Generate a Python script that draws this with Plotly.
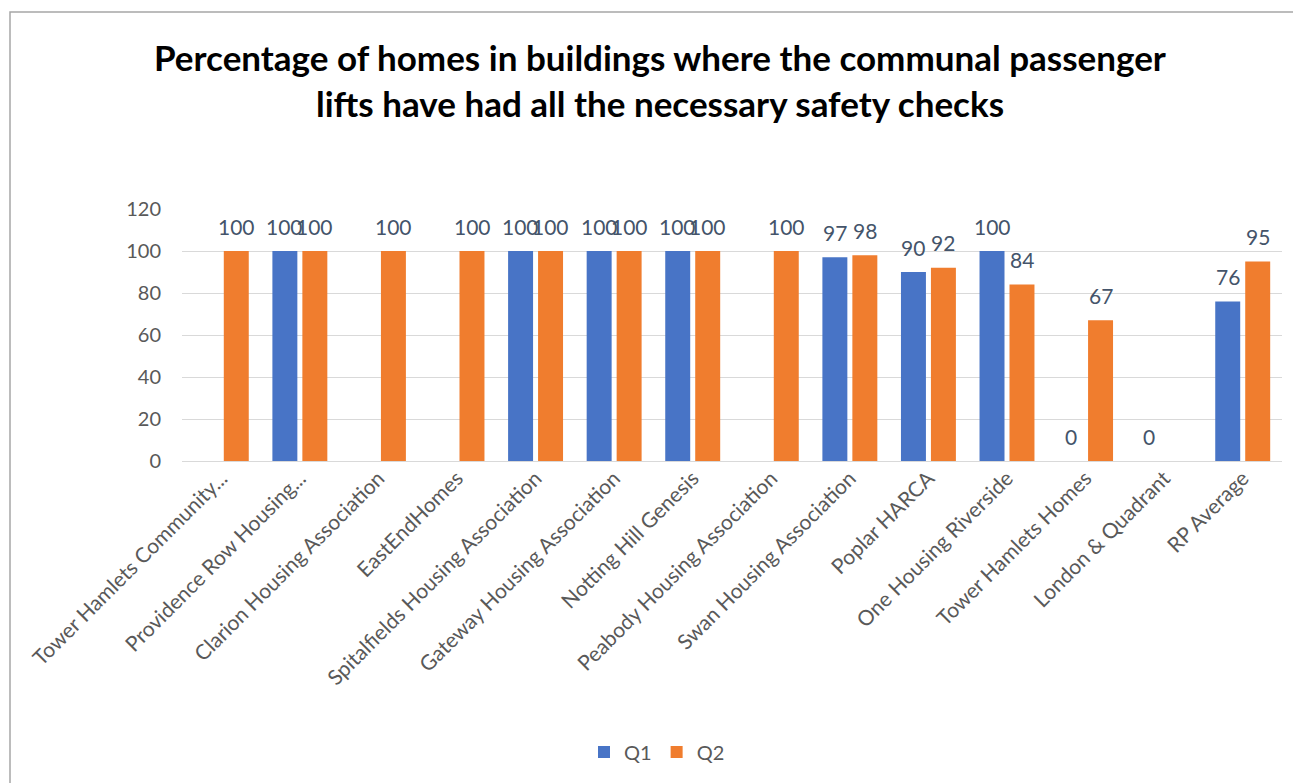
import plotly.graph_objects as go

categories = [
    "Tower Hamlets Community...",
    "Providence Row Housing...",
    "Clarion Housing Association",
    "EastEndHomes",
    "Spitalfields Housing Association",
    "Gateway Housing Association",
    "Notting Hill Genesis",
    "Peabody Housing Association",
    "Swan Housing Association",
    "Poplar HARCA",
    "One Housing Riverside",
    "Tower Hamlets Homes",
    "London & Quadrant",
    "RP Average",
]
q1 = [None, 100, None, None, 100, 100, 100, None, 97, 90, 100, 0, 0, 76]
q2 = [100, 100, 100, 100, 100, 100, 100, 100, 98, 92, 84, 67, None, 95]
y_ticks = [0, 20, 40, 60, 80, 100, 120]

title_line1 = "Percentage of homes in buildings where the communal passenger"
title_line2 = "lifts have had all the necessary safety checks"

OFF = 8  # page body margin
W, H = 1301, 783
L, R, T, B = 174, 27, 201, 330
pw = W - L - R
ph = H - T - B

def px_x(x):  # screen pixel -> paper
    return (x - OFF - L) / pw

def px_y(y):
    return (H - B - (y - OFF)) / ph

FONT = "Lato, Open Sans, sans-serif"
label_font = dict(family=FONT, size=21, color="#44546A")

fig = go.Figure()
fig.add_trace(go.Bar(
    name="Q1", x=categories, y=q1, marker=dict(color="#4874C6", line=dict(width=0)),
))
fig.add_trace(go.Bar(
    name="Q2", x=categories, y=q2, marker=dict(color="#F07D2E", line=dict(width=0)),
))

title_font = dict(family=FONT, size=35, color="#000000")

annotations = [
    dict(text="<b>" + title_line1 + "</b>",
         xref="paper", yref="paper", x=px_x(660), y=px_y(57),
         xanchor="center", yanchor="middle", showarrow=False, font=title_font),
    dict(text="<b>" + title_line2 + "</b>",
         xref="paper", yref="paper", x=px_x(660), y=px_y(103),
         xanchor="center", yanchor="middle", showarrow=False, font=title_font),
]
# data labels, above each bar (Q1 left of centre, Q2 right of centre)
for series, shift in ((q1, -15), (q2, 15)):
    for cat, v in zip(categories, series):
        if v is None:
            continue
        annotations.append(dict(
            text=str(v), x=cat, y=v, xref="x", yref="y",
            xshift=shift, yshift=25, xanchor="center", yanchor="middle",
            showarrow=False, font=label_font,
        ))

fig.update_layout(
    width=W, height=H,
    margin=dict(l=L, r=R, t=T, b=B, autoexpand=False),
    paper_bgcolor="white", plot_bgcolor="white",
    barmode="group", bargap=0.237, bargroupgap=0.167,
    font=dict(family=FONT, color="#595959"),
    showlegend=True,
    legend=dict(orientation="h", x=px_x(657), xanchor="center",
                y=px_y(752), yanchor="middle",
                font=dict(size=20, color="#595959"),
                itemwidth=30, traceorder="normal"),
    xaxis=dict(tickangle=-45, tickfont=dict(size=21, color="#595959"),
               showgrid=False, showline=False, ticks="", automargin=False),
    yaxis=dict(range=[0, 120], tickvals=y_ticks, showgrid=True,
               gridcolor="#D9D9D9", gridwidth=1, zeroline=True,
               zerolinecolor="#D9D9D9", zerolinewidth=1,
               tickfont=dict(size=20, color="#595959"), ticks="",
               ticklabelstandoff=20, automargin=False, fixedrange=True),
    annotations=annotations,
    shapes=[dict(type="rect", xref="paper", yref="paper",
                 x0=px_x(10), x1=px_x(1330), y0=px_y(820), y1=px_y(12),
                 line=dict(color="#A6A6A6", width=1.5), fillcolor="rgba(0,0,0,0)",
                 layer="below")],
)

fig.write_html("out.html")
